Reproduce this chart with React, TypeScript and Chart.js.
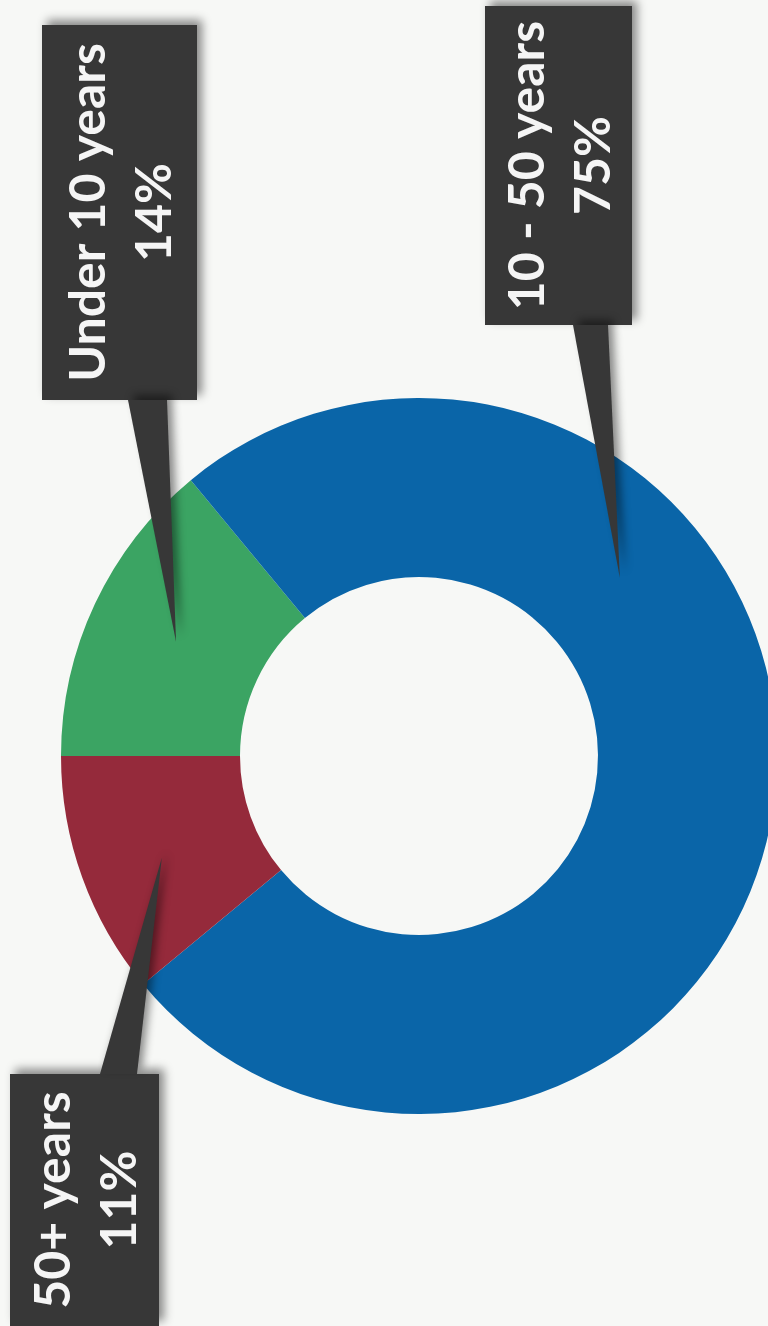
import React, { useEffect, useRef } from "react";
import { Chart, registerables } from "chart.js";

Chart.register(...registerables);

// ---- data ----
const categories = ["Under 10 years", "10 - 50 years", "50+ years"];
const values = [14, 75, 11];
const percentLabels = ["14%", "75%", "11%"];
const sliceColors = ["#3ba463", "#0a65a8", "#952a3b"];

// ---- callout layout (annotation boxes, rotated 90° like the scan) ----
// box: [left, top, width, height]; base: wedge base span on box edge; side: which edge the wedge leaves from
const calloutBoxes = [
  { box: [42, 25, 155, 375], base: [128, 167], side: "bottom", tipFrac: 0.5, tipR: 1.0 },
  { box: [485, 6, 147, 319], base: [573, 608], side: "bottom", tipFrac: 0.326, tipR: 1.0 },
  { box: [10, 1074, 149, 252], base: [100, 137], side: "top", tipFrac: 0.455, tipR: 1.03 },
];

const FONT_SIZE = 50;
const LINE_GAP = 66;
const CAP = 36;

const calloutPlugin = {
  id: "calloutPlugin",
  afterDatasetsDraw(chart: any) {
    const ctx: CanvasRenderingContext2D = chart.ctx;
    const meta = chart.getDatasetMeta(0);
    meta.data.forEach((arc: any, i: number) => {
      const c = calloutBoxes[i];
      const [bx, by, bw, bh] = c.box;
      const a = arc.startAngle + (arc.endAngle - arc.startAngle) * c.tipFrac;
      const r = ((arc.innerRadius + arc.outerRadius) / 2) * c.tipR;
      const tx = arc.x + Math.cos(a) * r;
      const ty = arc.y + Math.sin(a) * r;
      const baseY = c.side === "bottom" ? by + bh : by;

      ctx.save();
      ctx.fillStyle = "#373737";
      ctx.shadowColor = "rgba(0,0,0,0.45)";
      ctx.shadowBlur = 9;
      ctx.shadowOffsetX = 5;
      ctx.shadowOffsetY = -5;
      ctx.beginPath();
      ctx.rect(bx, by, bw, bh);
      ctx.fill();
      ctx.beginPath();
      ctx.moveTo(c.base[0], baseY);
      ctx.lineTo(tx, ty);
      ctx.lineTo(c.base[1], baseY);
      ctx.closePath();
      ctx.fill();
      ctx.restore();

      // text (rotated -90°)
      const cx = bx + bw / 2;
      const cy = by + bh / 2;
      ctx.save();
      ctx.translate(cx, cy);
      ctx.rotate(-Math.PI / 2);
      ctx.fillStyle = "#f5f5f5";
      ctx.font = `bold ${FONT_SIZE}px Lato, "Open Sans", sans-serif`;
      ctx.textAlign = "center";
      ctx.textBaseline = "alphabetic";
      const lines = [categories[i], percentLabels[i]];
      lines.forEach((t, k) => {
        const off = LINE_GAP * (k - 0.5) + CAP / 2;
        ctx.fillText(t, 0, off);
      });
      ctx.restore();
    });
  },
};

export default function App() {
  const ref = useRef<HTMLCanvasElement | null>(null);
  useEffect(() => {
    if (!ref.current) return;
    const chart = new Chart(ref.current, {
      type: "doughnut",
      data: {
        labels: categories,
        datasets: [
          {
            data: values,
            backgroundColor: sliceColors,
            borderWidth: 0,
          },
        ],
      },
      options: {
        responsive: false,
        maintainAspectRatio: false,
        animation: false,
        devicePixelRatio: 1,
        rotation: -90,
        cutout: "50%",
        layout: { padding: { left: 61, right: 23, top: 398, bottom: 212 } },
        plugins: {
          legend: { display: false },
          tooltip: { enabled: false },
        },
      },
      plugins: [calloutPlugin],
    } as any);
    return () => chart.destroy();
  }, []);

  return (
    <div
      style={{
        position: "absolute",
        left: 0,
        top: 0,
        width: 768,
        height: 1326,
        overflow: "hidden",
        background: "#f7f8f6",
      }}
    >
      <canvas ref={ref} width={800} height={1326} style={{ display: "block", width: 800, height: 1326 }} />
    </div>
  );
}
